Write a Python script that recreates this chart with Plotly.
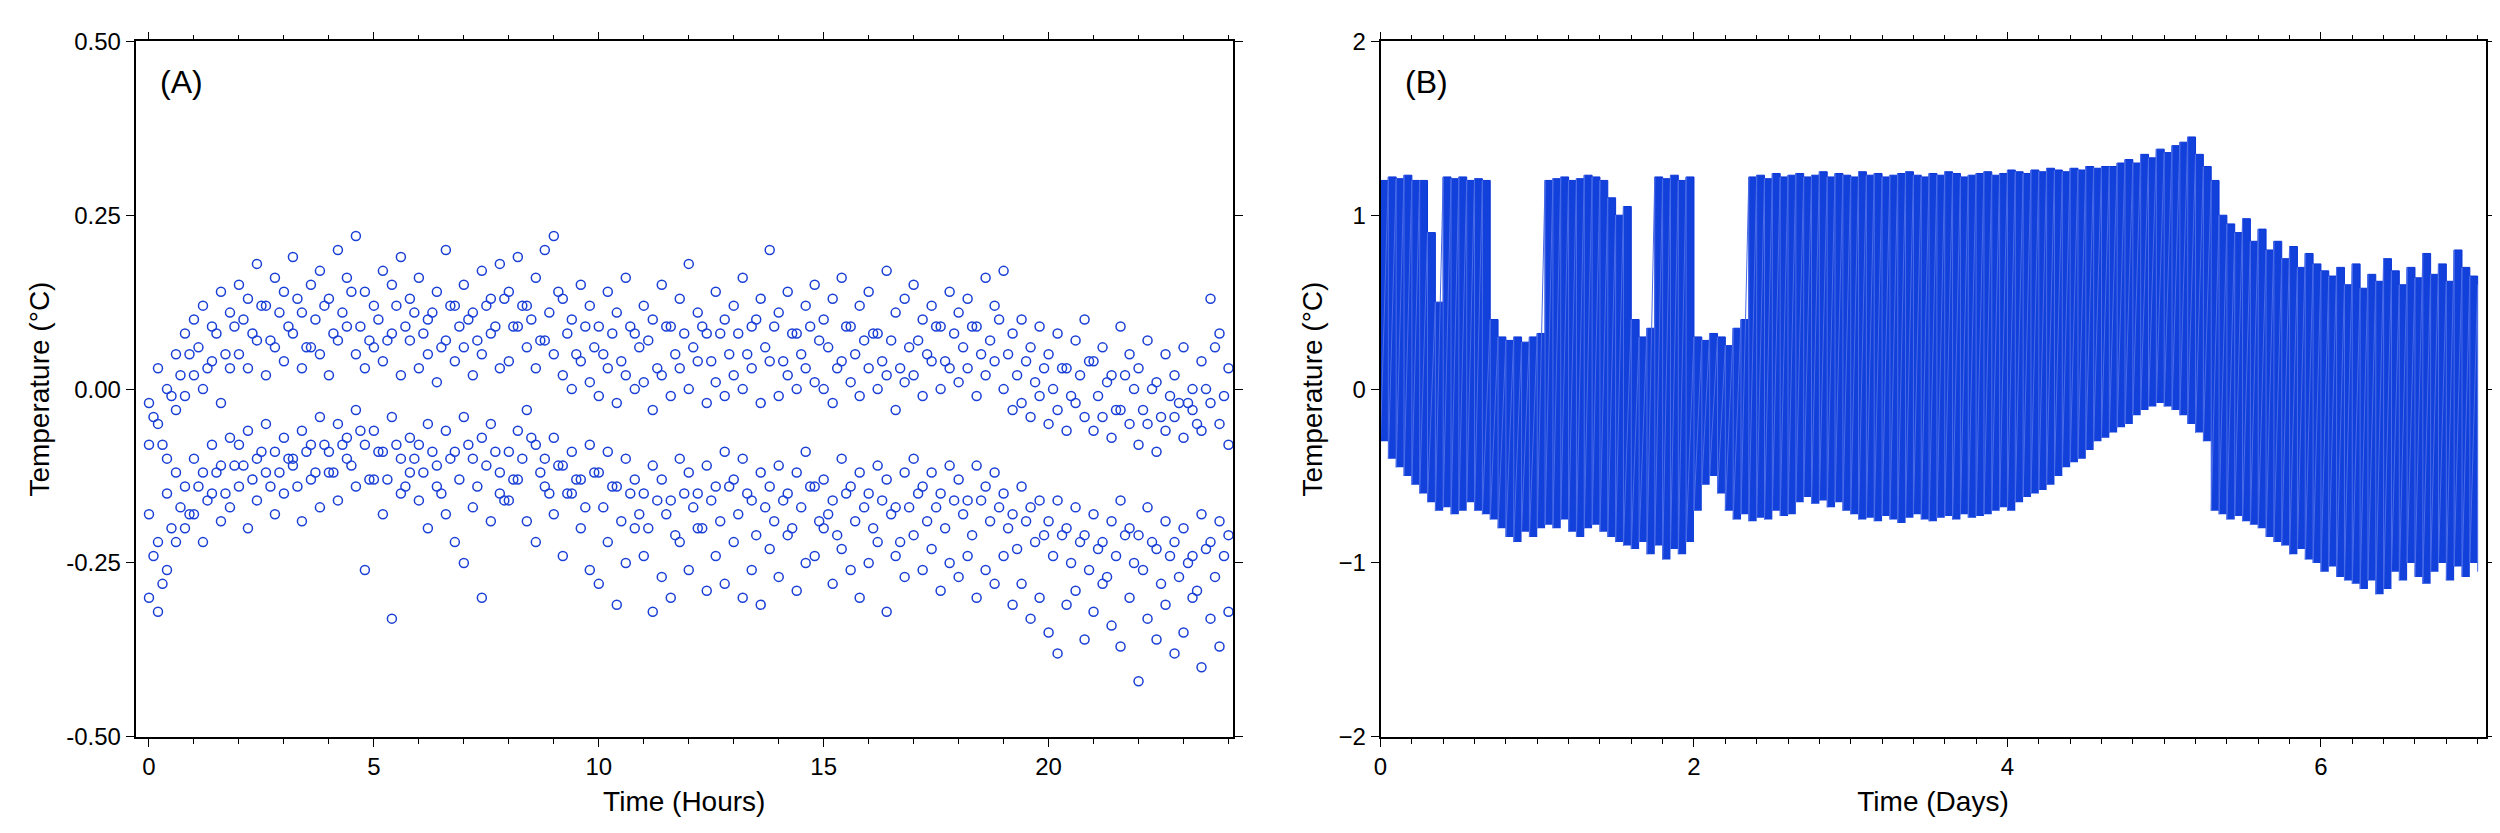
import plotly.graph_objects as go

# ---- Panel A: temperature residuals over 24 hours (hundredths of a degree) ----
hours = [i * 0.2 for i in range(121)]
hours_b = [0.1 + i * 0.2 for i in range(120)]

upper = [-2,3,0,5,8, 10,12,9,14,11, 15,13,18,12,16, 14,19,11,15,17, 13,20,16,22,14,
         12,17,15,19,13, 16,10,14,20,12, 15,11,17,13,18, 14,19,12,16,20, 22,13,10,15,12,
         9,14,11,16,8, 12,10,15,9,13, 18,11,8,14,10, 12,16,9,13,20, 11,14,8,12,15,
         10,13,16,9,12, 14,8,17,11,13, 15,10,12,9,14, 11,13,9,16,12, 17,8,10,6,9,
         5,8,3,7,10, 4,6,2,9,5, 3,7,1,5,2, 6,0,4,13,8, 3]
mid_hi = [-8,-5,-10,-3,-1, 2,0,4,-2,3, 5,3,7,2,6, 4,8,3,6,5, 2,7,9,5,3,
          6,4,8,2,7, 3,5,1,7,4, 6,2,5,8,3, 4,9,6,3,7, 5,2,0,4,1,
          -1,3,-2,2,0, 1,-3,2,-1,3, 0,4,-2,1,-1, 2,0,3,-2,4, -1,2,0,3,1,
          0,-2,4,1,-1, 3,0,2,-3,1, 2,-1,4,0,3, 1,3,-1,2,4, 0,-3,-2,-4,-1,
          -5,-3,-6,-2,-4, -6,-4,-7,-3,-5, -8,-5,-9,-6,-4, -7,-3,-6,-2,-5, -8]
mid_lo = [-18,-22,-15,-12,-14, -10,-12,-8,-11,-7, -8,-6,-10,-5,-9, -7,-10,-6,-8,-4, -9,-5,-7,-3,-8,
          -6,-9,-4,-10,-7, -8,-5,-11,-6,-9, -4,-10,-7,-5,-12, -9,-6,-3,-8,-10, -7,-11,-9,-13,-8,
          -12,-9,-14,-10,-13, -15,-11,-13,-16,-10, -12,-15,-11,-14,-9, -13,-10,-16,-12,-14, -11,-15,-12,-9,-14,
          -13,-16,-10,-14,-12, -15,-11,-13,-17,-12, -10,-14,-12,-15,-11, -13,-16,-11,-14,-12, -15,-18,-14,-17,-16,
          -19,-16,-20,-17,-21, -18,-22,-19,-16,-20, -21,-17,-23,-19,-22, -20,-24,-18,-22,-19, -21]
lower = [-30,-32,-26,-22,-20, -18,-22,-15,-19,-17, -14,-20,-16,-12,-18, -15,-11,-19,-13,-17, -12,-16,-10,-14,-26,
         -13,-18,-33,-15,-12, -16,-20,-14,-18,-22, -25,-17,-30,-19,-15, -16,-13,-19,-22,-14, -18,-24,-15,-20,-26,
         -28,-22,-31,-25,-20, -24,-32,-27,-30,-22, -26,-20,-29,-24,-28, -22,-30,-26,-31,-23, -27,-21,-29,-25,-24,
         -20,-28,-23,-26,-30, -25,-22,-32,-24,-27, -21,-26,-23,-29,-25, -27,-24,-30,-26,-28, -24,-31,-28,-33,-30,
         -35,-38,-31,-29,-36, -32,-28,-34,-37,-30, -42,-33,-36,-31,-38, -35,-30,-40,-33,-37, -32]

# readings taken between the main samples
mid_a = [-4,-8,-1,2,5, 6,3,8,5,9, 10,8,12,7,11, 9,13,6,10,12, 8,11,14,9,7,
         10,7,12,9,11, 8,11,6,12,9, 10,7,12,9,13, 9,12,10,7,11, 14,8,5,9,6,
         5,8,4,9,6, 7,3,9,5,8, 6,9,4,8,5, 8,5,10,6,9, 4,8,5,9,7,
         6,3,9,5,7, 8,4,7,3,6, 7,5,9,4,8, 6,9,5,7,10, 5,2,4,1,3,
         0,3,-1,2,4, -1,1,-3,2,0, -3,0,-4,-1,-2, -2,-5,0,6,-1]
mid_b = [-24,-28,-20,-17,-18, -14,-16,-12,-15,-11, -11,-13,-9,-14,-12, -10,-14,-9,-12,-8, -12,-8,-11,-6,-13,
         -9,-13,-8,-14,-10, -12,-9,-15,-10,-13, -8,-14,-11,-9,-16, -13,-10,-7,-12,-15, -11,-15,-13,-17,-12,
         -17,-14,-19,-15,-18, -20,-16,-18,-21,-15, -17,-20,-16,-19,-14, -18,-15,-21,-17,-19, -16,-20,-17,-14,-19,
         -18,-21,-15,-19,-17, -20,-16,-18,-22,-17, -15,-19,-17,-20,-16, -18,-21,-16,-19,-17, -20,-23,-19,-22,-21,
         -24,-21,-25,-22,-26, -23,-27,-24,-21,-25, -26,-22,-28,-24,-27, -25,-29,-23,-27,-24]

# ---- Panel B: one-week temperature envelope (hundredths of a degree) ----
days = [i * 0.05 for i in range(141)]
b_high = [120,122,121,123,120, 120,90,50,122, 121,122,120,121,120,
          40,30,28,30,27,30,32, 120,121,122,120,121,123,122,120,
          110,100,105,40, 30,35, 122,121,123,120,122, 30,28,32,30,25,35,40,
          122,123,121,124,122,123,124,122,123,125,122,124,123,122,125,123,124,122,123,124,
          125,123,122,124,123,125,124,122,123,124,125,123,124,126,125,124,126,125,127,126,
          125,127,126,128,127,128,
          128,130,132,130,135,133,138,136,140,142,145, 135,128,120,
          100,95,90,98,85,92, 80,85,75,82,70,78,72,68,
          65,70,60,72,58,66,62,75,68,60,70,64,78,66,72,62,80,70,65,60]
b_low = [-30,-40,-45,-50,-55, -60,-65,-70,-68,-72,-70,-65,-70,-72,
         -75,-80,-85,-88,-82,-85,-80, -78,-80,-75,-82,-85,-80,-78,-82,-85,-88,
         -90,-92,-88,-95,-90,-98,-92,-95,-88, -70,-55,-50,-60,
         -70,-75,-72,-76,-74,-75,-70,-73,-72, -65,-62,-66,-64,-68,-65,-70,-72,
         -75,-74,-76,-73,-75,-77,-74,-72,-75,-76,-74,-73,-75,-72,-74,-73,
         -72,-70,-68,-70,-65,-62,-60,-58, -55,-50,-45,-42,-40,-35,-30,-28,
         -25,-22,-20,-15,-12,-10,-8,-10,-12,-15,-20,-25,-30,
         -70,-72,-75,-73,-76,-78,-80,
         -85,-88,-90,-95,-92,-98,-100,-105,-102,-108,-110,-112,-115,-110,-118,-115,
         -105,-110,-100,-108,-112,-105,-100,-110,-102,-108,-100,-105]

blue = "#1a3fd6"
font = "Liberation Sans, Arial, sans-serif"

fig = go.Figure()

for tx, row in [(hours, upper), (hours, mid_hi), (hours, mid_lo), (hours, lower),
                (hours_b, mid_a), (hours_b, mid_b)]:
    fig.add_trace(go.Scatter(
        x=tx, y=[v / 100 for v in row], mode="markers",
        marker=dict(symbol="circle-open", size=9, color=blue, line=dict(width=1.5)),
        xaxis="x", yaxis="y", showlegend=False))

# solid band between low and high readings
fig.add_trace(go.Scatter(x=days, y=[v / 100 for v in b_low], mode="lines", line=dict(width=0, shape="hv"),
                         xaxis="x2", yaxis="y2", showlegend=False))
fig.add_trace(go.Scatter(x=days, y=[v / 100 for v in b_high], mode="lines", fill="tonexty",
                         fillcolor="#1240da", line=dict(width=1, color="#0a35d8", shape="hv"),
                         xaxis="x2", yaxis="y2", showlegend=False))

# zig-zag between the high and low readings
bx, by = [], []
for d, h, l in zip(days, b_high, b_low):
    bx += [d, d]
    by += [h / 100, l / 100]
fig.add_trace(go.Scatter(x=bx, y=by, mode="lines", line=dict(color="#4a6ce8", width=1),
                         xaxis="x2", yaxis="y2", showlegend=False))

ax = dict(showline=True, linecolor="black", linewidth=1.5, mirror="ticks", ticks="outside",
          ticklen=8, tickcolor="black", showgrid=False, zeroline=False,
          tickfont=dict(size=24, color="black"))

fig.update_layout(
    width=2500, height=833, template="none", paper_bgcolor="white", plot_bgcolor="white",
    font=dict(family=font, color="black"),
    margin=dict(l=0, r=0, t=0, b=0),
    xaxis=dict(ax, domain=[0.051, 0.49], range=[-0.3, 24.1], tickvals=[0, 5, 10, 15, 20],
               minor=dict(ticks="outside", ticklen=5, tickcolor="black", dtick=1),
               title=dict(text="Time (Hours)", font=dict(size=28), standoff=12), anchor="y"),
    yaxis=dict(ax, domain=[0.125, 0.96], range=[-0.5, 0.5], tickvals=[-0.5, -0.25, 0, 0.25, 0.5],
               ticktext=["-0.50", "-0.25", "0.00", "0.25", "0.50"],
               title=dict(text="Temperature (°C)", font=dict(size=28), standoff=8), anchor="x"),
    xaxis2=dict(ax, domain=[0.549, 0.991], range=[0, 7.05], tickvals=[0, 2, 4, 6],
                minor=dict(ticks="outside", ticklen=5, tickcolor="black", dtick=0.2),
                title=dict(text="Time (Days)", font=dict(size=28), standoff=12), anchor="y2"),
    yaxis2=dict(ax, domain=[0.125, 0.96], range=[-2, 2], tickvals=[-2, -1, 0, 1, 2],
                title=dict(text="Temperature (°C)", font=dict(size=28), standoff=8), anchor="x2"),
    annotations=[
        dict(text="(A)", x=0.060, y=0.935, xref="paper", yref="paper", showarrow=False,
             font=dict(size=32), xanchor="left", yanchor="top"),
        dict(text="(B)", x=0.558, y=0.935, xref="paper", yref="paper", showarrow=False,
             font=dict(size=32), xanchor="left", yanchor="top"),
    ],
)

fig.write_html("out.html")
